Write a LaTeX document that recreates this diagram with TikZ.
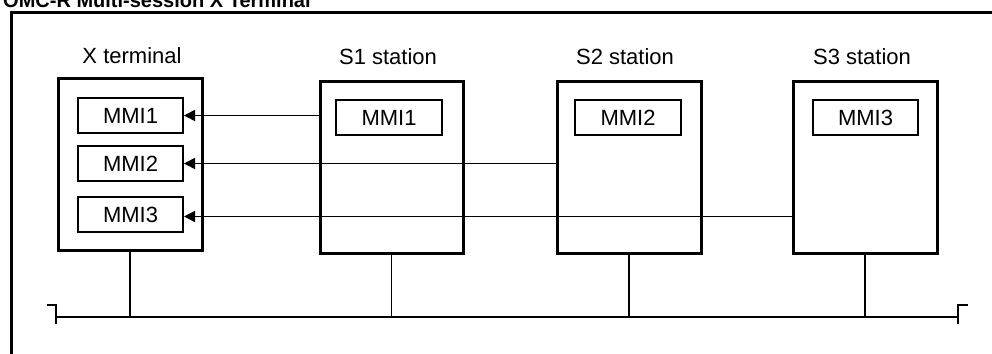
\documentclass[tikz,border=0pt]{standalone}
\usepackage{fontspec}
\setmainfont{Liberation Sans}
\usetikzlibrary{arrows.meta}
\tikzset{
  outerbox/.style={draw, line width=3pt, minimum width=143pt, minimum height=172pt, inner sep=0pt},
  mmibox/.style={draw, line width=2pt, minimum width=105pt, minimum height=35pt, inner sep=0pt, font=\fontsize{22}{25}\selectfont},
  lbl/.style={font=\fontsize{22}{25}\selectfont, inner sep=0pt},
  conn/.style={line width=1.6pt, -{Triangle[length=11pt,width=11pt]}},
  drop/.style={line width=1.6pt},
  bus/.style={line width=2.8pt},
  frame/.style={line width=3pt}
}
\begin{document}
\begin{tikzpicture}[x=1pt,y=-1pt]
\useasboundingbox (0,0) rectangle (992,353);
\clip (0,0) rectangle (992,353);
% title (clipped at top, as in the reference)
\node[font=\bfseries\fontsize{20}{24}\selectfont, anchor=base west, inner sep=0pt] (title) at (3,8) {OMC-R Multi-session X Terminal};
% frame
\draw[frame] (11.5,360) -- (11.5,13) -- (1000,13);
% boxes
\node[outerbox, minimum width=144pt] (xt) at (130,164) {};
\node[outerbox] (s1) at (391.5,167) {};
\node[outerbox, minimum width=144pt] (s2) at (629,167) {};
\node[outerbox, minimum width=144pt] (s3) at (865,167) {};
% labels
\node[lbl] (lxt) at (132,56) {X terminal};
\node[lbl] (ls1) at (388,57) {S1 station};
\node[lbl] (ls2) at (625,57) {S2 station};
\node[lbl] (ls3) at (862,57) {S3 station};
% MMI boxes in X terminal
\node[mmibox] (xm1) at (130.5,115.5) {MMI1};
\node[mmibox] (xm2) at (130.5,163.5) {MMI2};
\node[mmibox] (xm3) at (130.5,214.5) {MMI3};
% MMI boxes in stations
\node[mmibox, minimum width=106pt] (sm1) at (389,117.5) {MMI1};
\node[mmibox, minimum width=106pt] (sm2) at (628,117.5) {MMI2};
\node[mmibox, minimum width=105pt] (sm3) at (865.5,117.5) {MMI3};
% connectors
\draw[conn] (xm1.east -| s1.west) -- (xm1.east);
\draw[conn] (xm2.east -| s2.west) -- (xm2.east);
\draw[conn] ([yshift=-2pt]xm3.east -| s3.west) -- ([yshift=-2pt]xm3.east);
% bus
\coordinate (busL) at (56,317);
\coordinate (busR) at (958,317);
\draw[bus] (busL) -- (busR);
\draw[bus] (47,305) -- (56,305) -- (56,324);
\draw[bus] (968,305) -- (958,305) -- (958,324);
% drops
\draw[drop] (xt.south) -- (xt.south |- busL);
\draw[drop] (s1.south) -- (s1.south |- busL);
\draw[drop] (s2.south) -- (s2.south |- busL);
\draw[drop] (s3.south) -- (s3.south |- busL);
\end{tikzpicture}
\end{document}
